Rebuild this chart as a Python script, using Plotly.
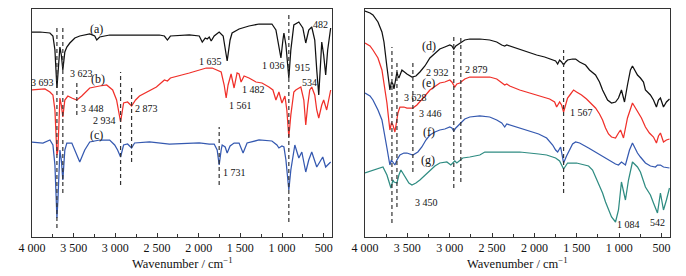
import plotly.graph_objects as go

# ---------------- data (wavenumber in cm-1, transmittance in a.u., curves offset) -------------
wn_a = [4000, 3904, 3785, 3749, 3725, 3701, 3665, 3648, 3630, 3606, 3582, 3546, 3486, 3427, 3307, 3247, 3223, 3188, 3068, 2829, 2590, 2471, 2411, 2375, 2339, 2112, 1993, 1957, 1921, 1897, 1873, 1850, 1814, 1754, 1706, 1658, 1623, 1599, 1515, 1396, 1276, 1121, 1073, 1037, 1013, 989, 977, 953, 918, 894, 858, 798, 750, 715, 679, 643, 607, 583, 559, 535, 523, 500, 476, 452, 416]
T_a = [205, 205, 204, 201, 187, 149, 190, 182, 167, 185, 190, 194, 199, 201, 203, 201, 197, 200, 202, 202, 202, 202, 201, 197, 201, 202, 201, 195, 199, 198, 200, 196, 201, 205, 201, 176, 197, 204, 208, 211, 213, 213, 207, 192, 179, 197, 204, 192, 159, 187, 212, 215, 209, 194, 207, 210, 197, 167, 142, 177, 195, 182, 162, 187, 209]

wn_b = [4000, 3845, 3785, 3749, 3725, 3701, 3689, 3665, 3648, 3630, 3606, 3570, 3522, 3462, 3403, 3307, 3188, 3104, 3032, 2985, 2937, 2901, 2853, 2805, 2757, 2710, 2507, 2411, 2375, 2339, 2112, 1993, 1909, 1838, 1778, 1730, 1694, 1670, 1647, 1611, 1575, 1539, 1515, 1491, 1455, 1396, 1312, 1240, 1157, 1109, 1073, 1037, 1001, 965, 942, 918, 894, 858, 834, 774, 738, 715, 691, 667, 643, 607, 583, 559, 523, 500, 464, 440, 416]
T_b = [147, 148, 145, 142, 127, 82, 87, 139, 132, 120, 137, 141, 139, 137, 141, 149, 151, 152, 147, 137, 115, 134, 135, 131, 137, 141, 150, 157, 156, 159, 164, 167, 169, 169, 167, 165, 152, 139, 152, 163, 149, 164, 163, 155, 161, 159, 155, 154, 150, 147, 137, 145, 134, 141, 127, 100, 122, 145, 147, 150, 137, 112, 132, 147, 150, 142, 127, 119, 132, 137, 127, 137, 147]

wn_c = [4000, 3869, 3785, 3749, 3725, 3701, 3689, 3665, 3648, 3630, 3606, 3582, 3522, 3486, 3427, 3367, 3307, 3188, 3068, 3008, 2973, 2937, 2901, 2853, 2805, 2769, 2590, 2351, 1993, 1873, 1814, 1778, 1754, 1730, 1718, 1682, 1658, 1623, 1575, 1515, 1467, 1419, 1276, 1121, 1061, 1037, 1001, 977, 953, 918, 894, 846, 798, 762, 715, 679, 643, 583, 535, 511, 476, 416]
T_c = [95, 94, 97, 92, 72, 19, 37, 87, 77, 57, 87, 94, 94, 87, 75, 87, 95, 97, 97, 92, 87, 80, 92, 93, 89, 94, 95, 93, 94, 93, 93, 87, 72, 87, 92, 90, 84, 91, 94, 94, 84, 94, 97, 96, 92, 89, 91, 90, 77, 47, 67, 92, 79, 85, 65, 77, 85, 70, 77, 80, 70, 75]

wn_d = [4000, 3941, 3906, 3847, 3800, 3776, 3741, 3717, 3706, 3688, 3670, 3658, 3635, 3623, 3611, 3600, 3564, 3505, 3446, 3399, 3352, 3293, 3234, 3175, 3117, 3058, 2999, 2975, 2952, 2928, 2881, 2822, 2763, 2645, 2528, 2445, 2386, 2351, 2327, 2292, 2174, 2056, 1974, 1880, 1785, 1750, 1726, 1703, 1680, 1656, 1632, 1609, 1550, 1514, 1467, 1397, 1350, 1279, 1232, 1196, 1137, 1090, 1043, 1008, 973, 937, 902, 867, 843, 819, 784, 749, 713, 690, 631, 595, 560, 536, 513, 477, 442, 406]
T_d = [226, 224, 222, 215, 205, 195, 170, 152, 147, 155, 153, 148, 162, 165, 161, 159, 167, 163, 160, 161, 165, 171, 179, 184, 188, 190, 192, 191, 188, 191, 194, 197, 198, 198, 197, 195, 192, 191, 192, 191, 187, 184, 182, 180, 177, 176, 173, 177, 175, 172, 175, 177, 178, 178, 175, 172, 167, 162, 155, 147, 137, 134, 135, 139, 147, 135, 152, 167, 171, 167, 162, 159, 155, 147, 142, 137, 130, 137, 139, 130, 135, 138]

wn_e = [4000, 3941, 3906, 3847, 3800, 3776, 3741, 3717, 3706, 3688, 3670, 3647, 3623, 3611, 3588, 3541, 3505, 3435, 3387, 3352, 3293, 3234, 3175, 3117, 3058, 2999, 2975, 2940, 2916, 2881, 2822, 2763, 2645, 2528, 2445, 2386, 2351, 2327, 2292, 2174, 2056, 1939, 1821, 1762, 1738, 1703, 1680, 1656, 1632, 1609, 1573, 1538, 1503, 1444, 1385, 1326, 1279, 1232, 1196, 1161, 1126, 1090, 1043, 1008, 984, 949, 902, 843, 808, 784, 737, 690, 643, 595, 560, 536, 513, 477, 442, 406]
T_e = [194, 191, 187, 179, 167, 154, 134, 115, 107, 114, 112, 105, 119, 124, 130, 130, 129, 129, 132, 135, 141, 147, 151, 154, 155, 157, 155, 150, 153, 154, 158, 160, 160, 160, 158, 154, 152, 153, 151, 147, 144, 141, 138, 135, 130, 135, 132, 125, 133, 139, 143, 147, 145, 142, 138, 133, 129, 123, 117, 109, 103, 100, 99, 104, 107, 99, 119, 134, 129, 125, 119, 110, 104, 100, 94, 101, 104, 95, 97, 98]

wn_f = [4000, 3941, 3906, 3847, 3800, 3776, 3741, 3717, 3706, 3688, 3670, 3647, 3623, 3588, 3541, 3505, 3435, 3376, 3329, 3281, 3234, 3175, 3117, 3058, 2999, 2975, 2952, 2928, 2881, 2822, 2763, 2645, 2528, 2445, 2386, 2351, 2327, 2292, 2174, 2056, 1950, 1856, 1785, 1750, 1726, 1691, 1656, 1621, 1597, 1550, 1514, 1467, 1361, 1279, 1161, 1090, 1043, 1008, 973, 926, 878, 843, 808, 784, 749, 690, 631, 572, 548, 513, 477, 406]
T_f = [144, 141, 137, 127, 117, 107, 89, 77, 72, 77, 75, 72, 77, 82, 84, 84, 82, 85, 90, 97, 102, 105, 107, 108, 110, 109, 106, 109, 113, 118, 120, 121, 120, 117, 114, 110, 113, 112, 109, 106, 103, 99, 92, 87, 85, 90, 74, 81, 85, 93, 95, 94, 89, 85, 79, 75, 73, 72, 75, 72, 87, 94, 88, 84, 80, 74, 71, 70, 72, 72, 70, 69]

wn_g = [4000, 3906, 3823, 3788, 3741, 3717, 3694, 3670, 3658, 3623, 3600, 3576, 3529, 3482, 3446, 3399, 3352, 3293, 3234, 3175, 3117, 3034, 2987, 2940, 2916, 2846, 2763, 2645, 2586, 2410, 2174, 1950, 1856, 1750, 1703, 1656, 1609, 1503, 1361, 1314, 1279, 1232, 1196, 1161, 1126, 1090, 1043, 1008, 973, 926, 890, 843, 784, 749, 690, 631, 595, 548, 513, 477, 442, 406]
T_g = [64, 67, 69, 70, 62, 55, 49, 57, 55, 54, 62, 67, 60, 54, 52, 54, 57, 62, 67, 71, 74, 75, 72, 76, 74, 79, 80, 82, 85, 85, 85, 83, 82, 79, 76, 68, 74, 74, 71, 67, 60, 52, 44, 35, 27, 20, 15, 27, 55, 37, 57, 75, 70, 65, 50, 42, 34, 24, 44, 27, 37, 49]

# dashed marker lines: (wavenumber, y_low, y_high)
dash_left = [(3701, 9, 210), (3630, 44, 210), (3462, 122, 154), (2937, 52, 165), (2805, 75, 149), (1754, 52, 110), (918, 15, 225)]
dash_right = [(3682, 14, 190), (3623, 30, 177), (3435, 65, 177), (2952, 49, 202), (2869, 55, 202), (1656, 44, 187)]

# text labels: (text, wavenumber, y, anchor)
labels_left = [("(a)", 3223, 208, "center"), ("3 623", 3570, 164, "left"), ("3 693", 3869, 155, "center"),
               ("(b)", 3210, 158, "center"), ("3 448", 3438, 129, "left"), ("2 934", 2973, 117, "right"),
               ("2 873", 2793, 129, "left"), ("(c)", 3223, 102, "center"), ("1 635", 1694, 176, "right"),
               ("1 036", 1097, 172, "center"), ("915", 870, 170, "left"), ("482", 535, 213, "center"),
               ("1 482", 1503, 148, "left"), ("1 561", 1658, 132, "left"), ("534", 667, 155, "center"),
               ("1 731", 1730, 65, "left")]
labels_right = [("(d)", 3246, 191, "center"), ("2 932", 2987, 165, "right"), ("2 879", 2846, 168, "left"),
                ("(e)", 3246, 154, "center"), ("3 628", 3564, 140, "left"), ("3 446", 3387, 124, "left"),
                ("(f)", 3246, 105, "center"), ("(g)", 3258, 77, "center"), ("3 450", 3435, 35, "left"),
                ("1 567", 1609, 125, "left"), ("1 084", 890, 13, "center"), ("542", 548, 15, "center")]

tick_vals = [4000, 3500, 3000, 2500, 2000, 1500, 1000, 500]
tick_text = ["4 000", "3 500", "3 000", "2 500", "2 000", "1 500", "1 000", "500"]

BLACK, RED, BLUE, TEAL = "#111111", "#f0302a", "#3559b0", "#2f8c82"
FONT = "Liberation Serif"

fig = go.Figure()
for wn, T, col, ax in [(wn_a, T_a, BLACK, 1), (wn_b, T_b, RED, 1), (wn_c, T_c, BLUE, 1),
                       (wn_d, T_d, BLACK, 2), (wn_e, T_e, RED, 2), (wn_f, T_f, BLUE, 2), (wn_g, T_g, TEAL, 2)]:
    fig.add_trace(go.Scatter(x=wn, y=T, mode="lines", line=dict(color=col, width=1.25),
                             xaxis="x" if ax == 1 else "x2", yaxis="y" if ax == 1 else "y2",
                             showlegend=False, hoverinfo="skip"))

shapes = []
for lst, xr, yr in [(dash_left, "x", "y"), (dash_right, "x2", "y2")]:
    for w, y0, y1 in lst:
        shapes.append(dict(type="line", xref=xr, yref=yr, x0=w, x1=w, y0=y0, y1=y1,
                           line=dict(color="#333333", width=1.2, dash="4px,3px")))

annotations = []
for lst, xr, yr in [(labels_left, "x", "y"), (labels_right, "x2", "y2")]:
    for t, w, y, anc in lst:
        big = t.startswith("(")
        annotations.append(dict(text=t, x=w, y=y, xref=xr, yref=yr, showarrow=False,
                                xanchor=anc, yanchor="middle",
                                font=dict(family=FONT, size=12 if big else 10, color="#111")))
for xc in [(32 + 332) / 2 / 686, (365 + 670) / 2 / 686]:
    annotations.append(dict(text="Wavenumber / cm<sup>−1</sup>", x=xc, y=1 - 263 / 276,
                            xref="paper", yref="paper", showarrow=False, xanchor="center",
                            yanchor="middle", font=dict(family=FONT, size=12.5, color="#111")))

xcommon = dict(range=[4000, 400], tickvals=tick_vals, ticktext=tick_text, ticks="inside", ticklen=4,
               tickcolor="#333", showline=True, mirror=True, linecolor="#333", linewidth=1,
               showgrid=False, zeroline=False, automargin=False,
               tickfont=dict(family=FONT, size=12, color="#111"),
               minor=dict(dtick=250, ticks="inside", ticklen=3, tickcolor="#333", tick0=0))
ycommon = dict(range=[0, 228], showticklabels=False, ticks="", showline=True, mirror=True,
               linecolor="#333", linewidth=1, showgrid=False, zeroline=False, automargin=False,
               domain=[1 - 237 / 276, 1 - 9 / 276])

fig.update_layout(
    width=686, height=276, margin=dict(l=0, r=0, t=0, b=0, autoexpand=False),
    paper_bgcolor="white", plot_bgcolor="white",
    xaxis=dict(domain=[32 / 686, 332 / 686], anchor="y", **xcommon),
    xaxis2=dict(domain=[365 / 686, 670 / 686], anchor="y2", **xcommon),
    yaxis=dict(anchor="x", **ycommon),
    yaxis2=dict(anchor="x2", **ycommon),
    shapes=shapes, annotations=annotations,
)

fig.write_html("out.html", config={"displayModeBar": False},
               post_script="document.body.style.margin='0';document.body.style.padding='0';")
